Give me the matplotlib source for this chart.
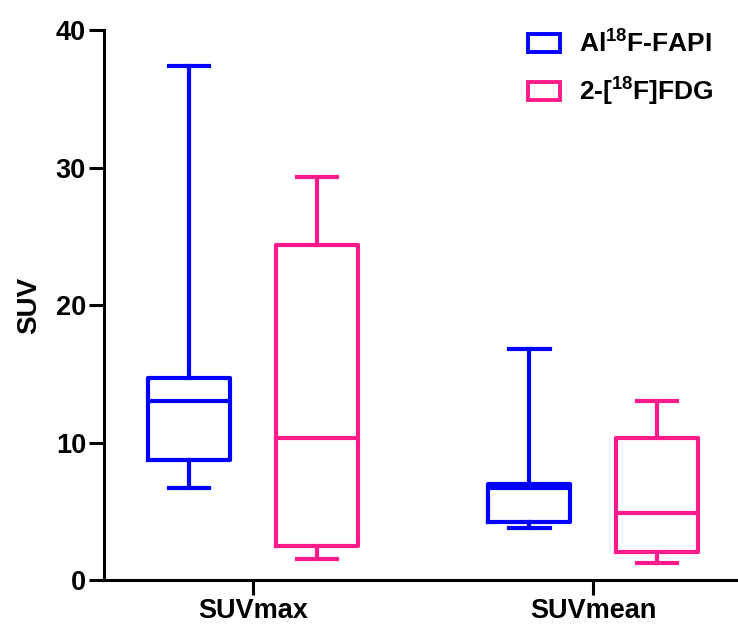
import matplotlib.pyplot as plt
from matplotlib.patches import Patch

plt.rcParams['font.family'] = ['Liberation Sans', 'DejaVu Sans']
plt.rcParams['font.weight'] = 'bold'
plt.rcParams['mathtext.fontset'] = 'custom'
plt.rcParams['mathtext.rm'] = 'Liberation Sans:bold'
plt.rcParams['mathtext.bf'] = 'Liberation Sans:bold'
plt.rcParams['mathtext.default'] = 'bf'

categories = ["SUVmax", "SUVmean"]
series = ["Al$^{18}$F-FAPI", "2-[$^{18}$F]FDG"]
colors = ["#0000ff", "#ff1a8c"]

# five-number summaries: whislo, q1, med, q3, whishi
fapi_stats = [
    [6.7, 8.7, 13.0, 14.7, 37.4],
    [3.8, 4.2, 6.7, 7.0, 16.8],
]
fdg_stats = [
    [1.5, 2.5, 10.3, 24.4, 29.3],
    [1.2, 2.0, 4.9, 10.3, 13.0],
]


def to_bxp(rows):
    return [dict(whislo=r[0], q1=r[1], med=r[2], q3=r[3], whishi=r[4], fliers=[])
            for r in rows]


fig = plt.figure(figsize=(7.38, 6.26), dpi=100)
ax = fig.add_axes([0.141, 0.0735, 0.859, 0.8785])

offset = 0.188
width = 0.24
lw = 3.0
for k, (stats, col) in enumerate(zip([fapi_stats, fdg_stats], colors)):
    pos = [i + (offset if k else -offset) for i in range(len(categories))]
    ax.bxp(to_bxp(stats), positions=pos, widths=width, showfliers=False,
           boxprops=dict(color=col, linewidth=lw),
           medianprops=dict(color=col, linewidth=lw),
           whiskerprops=dict(color=col, linewidth=lw),
           capprops=dict(color=col, linewidth=lw),
           capwidths=width / 2, manage_ticks=False)

ax.set_xlim(-0.438, 1.426)
ax.set_ylim(0, 40)
ax.set_yticks([0, 10, 20, 30, 40])
ax.set_xticks(range(len(categories)))
ax.set_xticklabels(categories)
ax.set_ylabel("SUV", fontsize=20, fontweight='bold', labelpad=10)

for s in ['top', 'right']:
    ax.spines[s].set_visible(False)
for s in ['left', 'bottom']:
    ax.spines[s].set_linewidth(2.2)
ax.tick_params(axis='both', width=2.2, length=11, labelsize=19.5)
ax.tick_params(axis='x', pad=2)
ax.tick_params(axis='y', pad=2)

handles = [Patch(facecolor='white', edgecolor=c, linewidth=2.8) for c in colors]
fig.legend(handles, series, loc='upper left', bbox_to_anchor=(0.715, 0.952),
           frameon=False, fontsize=19, handlelength=1.22, handleheight=0.68,
           labelspacing=0.7, handletextpad=0.72, borderpad=0, borderaxespad=0)

fig.savefig("out.png", dpi=100)
